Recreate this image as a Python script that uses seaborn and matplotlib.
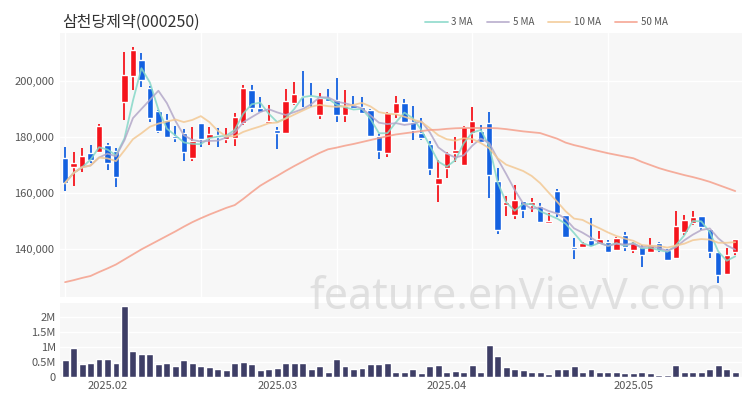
import numpy as np
import pandas as pd
import matplotlib
matplotlib.use("Agg")
import matplotlib.pyplot as plt
import seaborn as sns

TITLE = "삼천당제약(000250)"
WATERMARK = "feature.enVievV.com"

# KRX trading days shown (holidays skipped)
HOLIDAYS = ["2025-01-27", "2025-01-28", "2025-01-29", "2025-01-30",
            "2025-03-03", "2025-05-01", "2025-05-05", "2025-05-06"]
dates = pd.bdate_range("2025-01-21", "2025-05-22", freq="C", holidays=HOLIDAYS)

opens = [172500, 169300, 169300, 174300, 174600, 177100, 175000, 192500, 201800, 207500,
         197500, 189300, 186100, 180400, 181400, 172500, 185000, 179600, 180700, 179300,
         179600, 185000, 196800, 190400, 185000, 182500, 181400, 192100, 194600, 194600,
         187900, 193900, 193200, 187900, 191400, 190700, 189600, 180400, 174300, 188600,
         192100, 185400, 181400, 177500, 163200, 168900, 174300, 170000, 181400, 182100,
         185000, 164300, 155700, 152100, 157100, 155700, 155400, 149300, 160700, 152100,
         140700, 140700, 143200, 141800, 142500, 139600, 145000, 139600, 140700, 138900,
         142100, 139600, 136800, 146100, 149300, 151800, 147100, 138900, 131100, 138900]
highs = [176400, 174600, 176000, 177100, 184500, 177900, 176100, 210400, 212100, 210000,
         198200, 189600, 188200, 183900, 182900, 183600, 185000, 183600, 183200, 183200,
         188600, 198600, 198600, 194300, 191400, 183600, 197100, 199600, 203600, 199300,
         195700, 197100, 201100, 196800, 194600, 194300, 189900, 181100, 188900, 194600,
         193600, 191100, 186800, 178600, 171800, 174600, 180000, 184000, 190700, 184300,
         188900, 168900, 158900, 162900, 157100, 158200, 156400, 152900, 161400, 152100,
         143900, 142500, 151100, 146400, 143200, 144300, 146100, 142500, 141400, 143900,
         142500, 140000, 153600, 152100, 153600, 151800, 147100, 138900, 140400, 143600]
lows = [160700, 162500, 167500, 170700, 174300, 168200, 162100, 186100, 196800, 197900,
        185400, 181400, 180000, 178200, 171400, 171400, 176400, 177100, 176400, 178000,
        176800, 184300, 188900, 188600, 185000, 175700, 181400, 191400, 190700, 190700,
        186400, 192500, 185400, 185400, 190000, 188200, 180000, 172100, 172900, 186800,
        185000, 178900, 178900, 166400, 156800, 165400, 171100, 170000, 177900, 177900,
        158200, 145400, 151800, 150700, 151100, 153200, 149600, 149300, 151400, 144000,
        136400, 140400, 140700, 141400, 138600, 139300, 139300, 138600, 133600, 138600,
        138900, 135700, 136800, 145000, 148600, 146800, 136800, 127900, 130700, 137900]
closes = [163600, 170700, 173200, 171800, 184000, 170700, 165700, 202100, 211100, 200400,
          186800, 182100, 180000, 179600, 174600, 178400, 179300, 181100, 180000, 180400,
          187100, 197500, 190400, 188900, 185700, 181400, 192900, 195400, 194300, 194300,
          193900, 192800, 187900, 191100, 190400, 188600, 180400, 175000, 188600, 192100,
          185400, 182500, 179600, 168600, 165400, 174300, 175400, 183600, 185700, 178200,
          166400, 146800, 156800, 157500, 153900, 156800, 149800, 150000, 152900, 144300,
          140000, 142100, 141000, 143600, 138900, 143900, 140700, 142100, 137900, 141400,
          139600, 136100, 148200, 150400, 151400, 147900, 138900, 130700, 137900, 143600]
volumes = [0.55, 0.95, 0.42, 0.45, 0.60, 0.60, 0.45, 2.35, 0.85, 0.75,
           0.75, 0.42, 0.45, 0.38, 0.55, 0.45, 0.35, 0.32, 0.25, 0.22,
           0.48, 0.50, 0.42, 0.22, 0.28, 0.30, 0.48, 0.48, 0.45, 0.25,
           0.35, 0.18, 0.60, 0.38, 0.25, 0.30, 0.42, 0.42, 0.45, 0.18,
           0.15, 0.25, 0.12, 0.35, 0.40, 0.18, 0.20, 0.15, 0.40, 0.18,
           1.05, 0.70, 0.32, 0.28, 0.22, 0.15, 0.15, 0.10, 0.25, 0.25,
           0.35, 0.15, 0.25, 0.18, 0.15, 0.15, 0.12, 0.12, 0.15, 0.12,
           0.08, 0.08, 0.40, 0.18, 0.15, 0.15, 0.28, 0.40, 0.25, 0.18]
ma50 = [128200, 128900, 129700, 130400, 131800, 133100, 134500, 136300, 138100, 139900,
        141500, 143100, 144700, 146300, 148000, 149600, 151000, 152300, 153500, 154700,
        155700, 157900, 160300, 162600, 164400, 166100, 167900, 169600, 171200, 172800,
        174300, 175600, 176200, 176900, 177500, 178200, 178900, 179600, 180300, 180900,
        181300, 181700, 182100, 182500, 182600, 182900, 183100, 183200, 183200, 183200,
        183200, 183100, 182800, 182400, 182000, 181700, 181400, 180400, 179400, 178000,
        177100, 176400, 175600, 174900, 174200, 173600, 173000, 172400, 171100, 170000,
        168900, 168000, 167200, 166400, 165700, 164900, 164000, 162900, 161800, 160700]

RED = "#f5141c"
BLUE = "#1461e0"
VOL_COLOR = "#3e3e66"
MA_COLORS = {"3 MA": "#86d8c8", "5 MA": "#b3a8c9", "10 MA": "#f3c994", "50 MA": "#f5a08c"}

sns.set_style("white")
plt.rcParams["font.family"] = ["Noto Sans CJK KR", "DejaVu Sans"]

df = pd.DataFrame({"date": dates, "open": opens, "high": highs, "low": lows,
                   "close": closes, "volume": np.array(volumes) * 1e6, "ma50": ma50})
df["idx"] = np.arange(len(df))
df["ma3"] = df["close"].rolling(3, min_periods=1).mean()
df["ma5"] = df["close"].rolling(5, min_periods=1).mean()
df["ma10"] = df["close"].rolling(10, min_periods=1).mean()

fig = plt.figure(figsize=(7.5, 4), dpi=100)
ax = fig.add_axes([60 / 750, 1 - 297 / 400, 682 / 750, 264 / 400])
axv = fig.add_axes([60 / 750, 1 - 377 / 400, 682 / 750, 74 / 400])

# candles
up = df["close"] >= df["open"]
colors = np.where(up, RED, BLUE)
body_lo = np.minimum(df["open"], df["close"])
body_h = np.maximum(np.abs(df["close"] - df["open"]), 400)
ax.vlines(df["idx"], df["low"], df["high"], colors=colors, linewidth=1.3, zorder=2)
ax.bar(df["idx"], body_h, bottom=body_lo, width=0.76, color=colors, zorder=2)

# moving averages
for col, lab in [("ma3", "3 MA"), ("ma5", "5 MA"), ("ma10", "10 MA"), ("ma50", "50 MA")]:
    sns.lineplot(data=df, x="idx", y=col, ax=ax, color=MA_COLORS[lab], linewidth=1.3,
                 alpha=0.85, label=lab, zorder=3)

handles, labels = ax.get_legend_handles_labels()
ax.get_legend().remove()
fig.legend(handles, labels, loc="center right", bbox_to_anchor=(0.902, 1 - 22 / 400),
           ncol=4, frameon=False, fontsize=7, handlelength=2.3, columnspacing=1.4,
           handletextpad=0.4, labelcolor="#555555")

ax.set_facecolor("#f7f7f7")
ax.set_xlim(-0.6, 79.8)
ax.set_ylim(122900, 217100)
ax.set_yticks([140000, 160000, 180000, 200000])
ax.set_yticklabels([f"{v:,}" for v in [140000, 160000, 180000, 200000]])
ax.set_xticks([0, 16, 32, 48, 64])
ax.set_xticklabels([])
ax.grid(True, color="white", linewidth=1.0)
ax.set_axisbelow(True)
ax.set_xlabel("")
ax.set_ylabel("")
ax.tick_params(length=0, labelsize=8, colors="#555555", pad=4)
for s in ax.spines.values():
    s.set_visible(False)

# volume
sns.barplot(data=df, x="idx", y="volume", ax=axv, native_scale=True, color=VOL_COLOR,
            saturation=1, width=0.82, errorbar=None, zorder=2)
axv.set_facecolor("#f7f7f7")
axv.set_xlim(-0.6, 79.8)
axv.set_ylim(0, 2.45e6)
axv.set_yticks([0, 0.5e6, 1e6, 1.5e6, 2e6])
axv.set_yticklabels(["0", "0.5M", "1M", "1.5M", "2M"])
month_first = df.groupby(df["date"].dt.month)["idx"].min()
month_first = month_first[month_first > 0]
axv.set_xticks(month_first.values)
axv.set_xticklabels([df["date"][i].strftime("%Y.%m") for i in month_first.values])
axv.grid(True, axis="y", color="white", linewidth=1.0)
axv.set_axisbelow(True)
axv.set_xlabel("")
axv.set_ylabel("")
axv.tick_params(length=0, labelsize=8, colors="#555555", pad=3)
for s in axv.spines.values():
    s.set_visible(False)

fig.text(62 / 750, 1 - 22 / 400, TITLE, fontsize=11.5, color="#333333", ha="left", va="center")
fig.text(518 / 750, 1 - 298 / 400, WATERMARK, fontsize=31, color="#cfcfcf", alpha=0.6,
         ha="center", va="center", family=["Noto Sans", "DejaVu Sans"], zorder=10)

fig.savefig("out.png", dpi=100)
